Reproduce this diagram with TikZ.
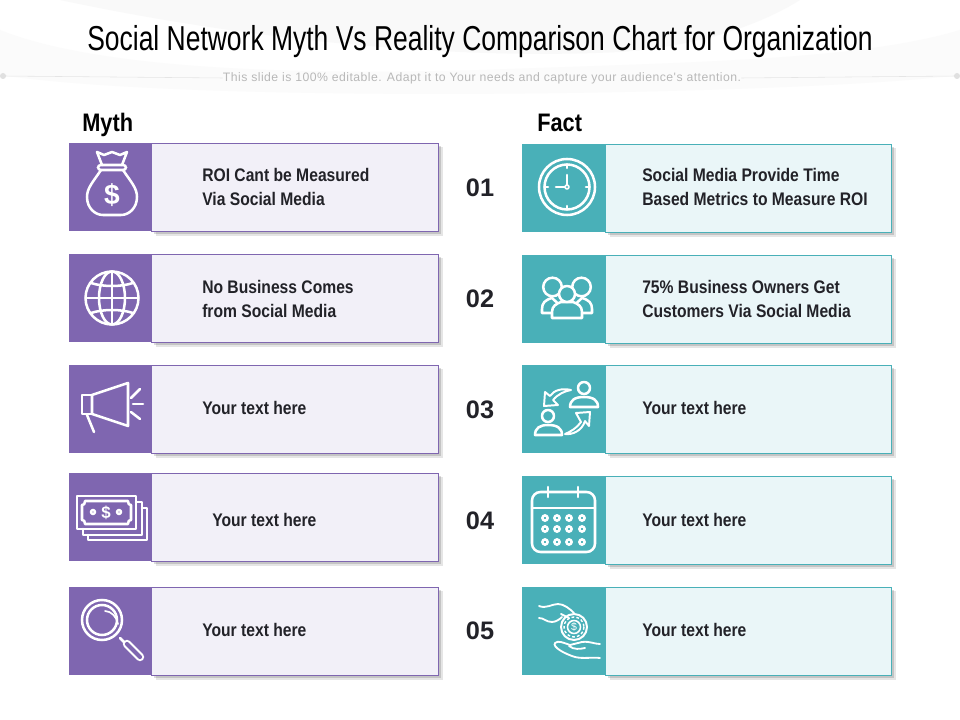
\documentclass[tikz,border=0pt]{standalone}
\usepackage{fontspec}
\setmainfont{Liberation Sans}
\newfontfamily\narrowfont[FakeStretch=0.86]{Liberation Sans}
\newfontfamily\titlefont[FakeStretch=0.765]{Liberation Sans}
\newfontfamily\subfont[LetterSpace=3.8]{Liberation Sans}
\usetikzlibrary{positioning,shadows}
\definecolor{mythcol}{HTML}{7F66B0}
\definecolor{mythpale}{HTML}{F2F0F8}
\definecolor{factcol}{HTML}{49B0B8}
\definecolor{factpale}{HTML}{EAF6F8}
\definecolor{inkcol}{HTML}{222228}
\tikzset{
  iconbox/.style={minimum height=2.2cm,inner sep=0pt,outer sep=0pt},
  cardbody/.style={minimum height=2.2cm,inner sep=0pt,outer sep=0pt,line width=.5pt,
    drop shadow={shadow xshift=3.2pt,shadow yshift=-3.2pt,opacity=.10,fill=black},
    drop shadow={shadow xshift=2pt,shadow yshift=-2pt,opacity=.14,fill=black}},
  mythicon/.style={iconbox,fill=mythcol,minimum width=2.05cm},
  mythbody/.style={cardbody,draw=mythcol,fill=mythpale,minimum width=7.175cm},
  facticon/.style={iconbox,fill=factcol,minimum width=2.075cm},
  factbody/.style={cardbody,draw=factcol,fill=factpale,minimum width=7.15cm},
  cardtext/.style={anchor=west,align=left,inner sep=0pt,text=inkcol,font=\narrowfont\bfseries\fontsize{12.95}{16.6}\selectfont},
  numtext/.style={text=inkcol,inner sep=0pt,font=\bfseries\fontsize{18}{20}\selectfont},
  headtext/.style={anchor=west,inner sep=0pt,text=black,font=\narrowfont\bfseries\fontsize{18}{20}\selectfont},
  iconline/.style={draw=white,line width=1.8pt,line cap=round,line join=round},
  factline/.style={iconline,fill=factcol},
  signtext/.style={text=white,inner sep=0pt,font=\bfseries\fontsize{20}{22}\selectfont}
}
\begin{document}
\begin{tikzpicture}[x=0.025cm,y=-0.025cm]
\useasboundingbox (0,0) rectangle (960,720);
\fill[white] (0,0) rectangle (960,720);
% swoosh behind the title
\fill[black!2.5] (60,0) .. controls (200,30) and (420,62) .. (620,52) .. controls (700,46) and (760,25) .. (800,0) -- cycle;
\fill[black!1.5] (0,30) .. controls (100,70) and (300,75) .. (480,70) .. controls (700,62) and (860,60) .. (960,30) -- (960,75) .. controls (800,95) and (200,105) .. (0,75) -- cycle;

\node[inner sep=0pt,text=black,font=\titlefont\fontsize{24.6}{28}\selectfont] (title) at (480,42) {Social Network Myth Vs Reality Comparison Chart for Organization};
\node[inner sep=0pt,text=black!28,font=\subfont\fontsize{8.7}{10}\selectfont] (subtitle) at (482,78) {This slide is 100\% editable. Adapt it to Your needs and capture your audience's attention.};
\coordinate (ruleL) at (3,76);
\coordinate (ruleR) at (957,76);
\draw[black!10] (ruleL) -- (subtitle.west);
\draw[black!10] (subtitle.east) -- (ruleR);
\fill[black!12] (ruleL) circle[radius=3];
\fill[black!12] (ruleR) circle[radius=3];

\node[headtext] (myth) at (82,125) {Myth};
\node[headtext] (fact) at (537,123) {Fact};

\foreach \n/\yy/\ty/\tx/\msg in {1/187/187/202/{ROI Cant be Measured\\Via Social Media},
    2/298/299/202/{No Business Comes\\from Social Media},
    3/409/408/202/{Your text here},
    4/517/520/212/{Your text here},
    5/631/630/202/{Your text here}}
{
\node[mythicon] (micon\n) at (110,\yy) {};
\node[mythbody,right=0pt of micon\n] (mbody\n) {};
\node[cardtext] (mtext\n) at (\tx,\ty) {\msg};
}
\foreach \n/\yy/\ty/\msg in {1/188/187/{Social Media Provide Time\\Based Metrics to Measure ROI},
    2/299/299/{75\% Business Owners Get\\Customers Via Social Media},
    3/409/408/{Your text here},
    4/520/520/{Your text here},
    5/631/630/{Your text here}}
{
\node[facticon] (ficon\n) at (563.5,\yy) {};
\node[factbody,right=0pt of ficon\n] (fbody\n) {};
\node[cardtext] (ftext\n) at (642,\ty) {\msg};
}
\foreach \n/\yy in {1/188,2/299,3/410,4/521,5/631}
\node[numtext] (num\n) at (480,\yy) {0\n};

% money bag
\draw[iconline] (97,152) -- (104,155) -- (112,152) -- (120,155) -- (127,152) -- (122,165);
\draw[iconline] (97,152) -- (102,165);
\draw[iconline,rounded corners=2pt] (98,165) rectangle (126,170);
\draw[iconline] (101,170) .. controls (93,182) and (87,188) .. (87,197) .. controls (87,208) and (95,215) .. (103,215) -- (121,215) .. controls (129,215) and (137,208) .. (137,197) .. controls (137,188) and (131,182) .. (123,170);
\node[signtext] (bagsign) at (112,195) {\$};

% globe
\draw[iconline] (112,298) circle[radius=26.5];
\draw[iconline] (112,298) circle[x radius=13,y radius=26.5];
\draw[iconline] (112,272) -- (112,324);
\draw[iconline] (86,298) -- (138,298);
\draw[iconline] (91,283) .. controls (103,287) and (121,287) .. (133,283);
\draw[iconline] (91,313) .. controls (103,309) and (121,309) .. (133,313);

% megaphone
\draw[iconline] (92,395) -- (82,395) -- (82,414) -- (92,414);
\draw[iconline] (92,395) -- (128,383) -- (128,426) -- (92,414) -- cycle;
\draw[iconline] (87,415) -- (94,432);
\draw[iconline] (131,398) -- (140,389);
\draw[iconline] (133,404) -- (143,404);
\draw[iconline] (131,412) -- (140,419);

% bank notes
\draw[iconline] (77,496) rectangle (136,529);
\draw[iconline] (85,501) -- (128,501) .. controls (128,504) and (129,505) .. (131,505) -- (131,520) .. controls (129,520) and (128,521) .. (128,524) -- (85,524) .. controls (85,521) and (84,520) .. (82,520) -- (82,505) .. controls (84,505) and (85,504) .. (85,501) -- cycle;
\draw[iconline] (83,529) -- (83,535) -- (142,535) -- (142,502) -- (136,502);
\draw[iconline] (88,535) -- (88,540) -- (147,540) -- (147,508) -- (142,508);
\draw[iconline] (93,512) circle[radius=2];
\draw[iconline] (119,512) circle[radius=2];
\node[signtext,font=\bfseries\fontsize{12}{13}\selectfont] (notesign) at (106,512.5) {\$};

% magnifier
\draw[iconline] (102,620) circle[radius=20];
\draw[iconline] (102,620) circle[radius=15];
\draw[iconline,line width=1.2pt] (105,611) .. controls (111,611) and (117,617) .. (118,624);
\draw[iconline] (120,638) -- (126,644);
\draw[draw=white,line width=6pt,line cap=round] (127,644) -- (140,657);
\draw[draw=mythcol,line width=3pt,line cap=round] (127,644) -- (140,657);

% clock
\draw[iconline] (567,187) circle[radius=28];
\draw[iconline] (567,187) circle[radius=22.5];
\foreach \a in {0,90,180,270}
\draw[iconline] (567,187) ++(\a:22.5) -- ++(\a:-3.5);
\draw[iconline] (567,175) -- (567,187) -- (556,187);
\fill[white] (567,187) circle[radius=2.8];
\fill[factcol] (567,187) circle[radius=1.1];

% people
\draw[factline] (542,313) -- (542,309) .. controls (542,303) and (545,300) .. (552,298) -- (565,310) -- (552,313) -- cycle;
\draw[factline] (592,313) -- (592,309) .. controls (592,303) and (589,300) .. (582,298) -- (569,310) -- (582,313) -- cycle;
\draw[factline] (552.5,287) circle[radius=9.3];
\draw[factline] (581.5,287) circle[radius=9.3];
\draw[factline] (552,318) -- (552,312) .. controls (552,306) and (556,304) .. (561,302) -- (573,302) .. controls (578,304) and (582,306) .. (582,312) -- (582,318) -- cycle;
\draw[factline] (567,294) circle[radius=8];

% people and arrows
\draw[iconline] (584,388) circle[radius=6];
\draw[iconline] (570,407) .. controls (570,400) and (575,397) .. (584,397) .. controls (593,397) and (598,400) .. (598,407) -- cycle;
\draw[iconline] (548,416) circle[radius=6];
\draw[iconline] (535,435) .. controls (535,428) and (540,425) .. (548,425) .. controls (557,425) and (562,428) .. (562,435) -- cycle;
\draw[iconline,line width=1.4pt] (545,392) -- (544,406) -- (558,405) -- (553,400) .. controls (558,394) and (565,391) .. (571,390) .. controls (562,388) and (554,390) .. (550,396) -- cycle;
\draw[iconline,line width=1.4pt] (590,412) -- (589,426) -- (585,421) .. controls (582,431) and (572,435) .. (565,434) .. controls (570,432) and (577,428) .. (581,422) -- (576,413) -- cycle;

% calendar
\draw[iconline,rounded corners=6pt] (532,492) rectangle (595,552);
\draw[iconline] (532,508) -- (595,508);
\draw[iconline] (548,487) -- (548,497);
\draw[iconline] (578,487) -- (578,497);
\foreach \x in {545,557,569,582}
\foreach \y in {518,529,542}
\draw[iconline] (\x,\y) circle[radius=2.6];

% hand and coin
\draw[iconline,line width=1.4pt] (574,627) circle[radius=13];
\draw[iconline,line width=1pt,dash pattern=on 2pt off 1.5pt,line cap=butt] (574,627) circle[radius=10];
\draw[iconline,line width=1.1pt] (574,627) circle[radius=6.5];
\node[signtext,font=\fontsize{7.5}{8}\selectfont] (coinsign) at (574,627) {\$};
\draw[iconline,line width=1.3pt] (539,606) .. controls (546,609) and (552,604) .. (558,604) .. controls (564,604) and (570,609) .. (574,613);
\draw[iconline,line width=1.3pt] (539,618) .. controls (544,618) and (546,622) .. (552,622) .. controls (556,622) and (560,619) .. (562,617);
\draw[iconline,line width=1.3pt] (561,614) -- (569,618);
\draw[iconline,line width=1.3pt] (600,644) .. controls (594,644) and (590,641) .. (582,642) -- (570,645) .. controls (564,643) and (558,640) .. (555,643) .. controls (552,647) and (565,654) .. (575,657) .. controls (583,659) and (592,657) .. (600,658);
\draw[iconline,line width=1.3pt] (569,646) .. controls (574,650) and (580,649) .. (585,648);
\end{tikzpicture}
\end{document}
